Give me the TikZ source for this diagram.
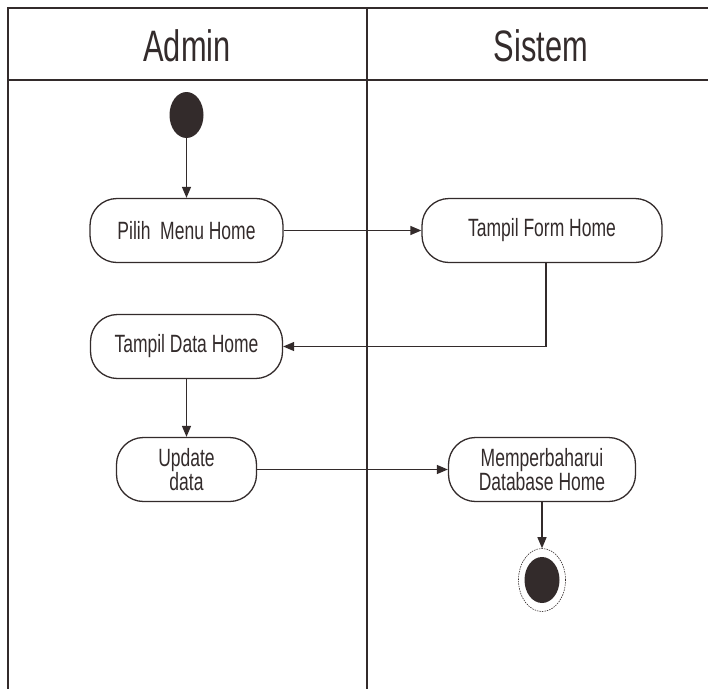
\documentclass[tikz,border=0pt]{standalone}
\usepackage{fontspec}
\setmainfont{Liberation Sans}
\newfontfamily\narrowfont[FakeStretch=0.7]{Liberation Sans}
\usetikzlibrary{arrows.meta,shapes.geometric}
\definecolor{inkdark}{HTML}{332B2B}
\tikzset{
  lane/.style={draw=inkdark, line width=2pt},
  lanetitle/.style={anchor=base, text=inkdark, inner sep=0pt,
    font=\narrowfont\fontsize{44}{44}\selectfont},
  activity/.style={draw=inkdark, line width=1.3pt, rounded corners=27pt,
    minimum height=64pt, inner sep=0pt, align=center, text=inkdark,
    font=\narrowfont\fontsize{25}{24}\selectfont},
  flow/.style={draw=inkdark, line width=1.3pt,
    -{Triangle[length=11pt,width=9pt]}},
  initial/.style={ellipse, fill=inkdark, inner sep=0pt,
    minimum width=34pt, minimum height=46pt},
}
\begin{document}
\begin{tikzpicture}[x=1pt, y=-1pt]
    \useasboundingbox (0,0) rectangle (708,689);

    % Swimlanes
    \draw[lane] (708,8) -- (8,8) -- (8,689);
    \draw[lane] (8,80) -- (708,80);
    \draw[lane] (366.5,8) -- (366.5,689);
    \node[lanetitle] (admin) at (187,61) {Admin};
    \node[lanetitle] (sistem) at (541,61) {Sistem};

    % Start / end
    \node[initial] (start) at (186.5,115) {};
    \node[ellipse, draw=inkdark, line width=0.6pt, dash pattern=on 1.5pt off 1pt,
          minimum width=47pt, minimum height=63pt, inner sep=0pt] (endring) at (542,580) {};
    \node[initial, minimum width=35pt] (enddot) at (542,580) {};

    % Activities
    \node[activity, minimum width=193pt] (pilih) at (186.5,230.5) {Pilih\ \ Menu Home};
    \node[activity, minimum width=240pt] (form) at (542,230.5) {Tampil Form Home};
    \node[activity, minimum width=192pt] (data) at (186.5,346.5) {Tampil Data Home};
    \node[activity, minimum width=140pt] (update) at (186.5,469.5) {Update\\data};
    \node[activity, minimum width=187pt] (perbarui) at (542,469.5) {Memperbaharui\\Database Home};

    % Flows
    \draw[flow] (start) -- (pilih);
    \draw[flow] (pilih) -- (form);
    \draw[flow] ([xshift=4pt]form.south) |- (data.east);
    \draw[flow] (data) -- (update);
    \draw[flow] (update) -- (perbarui);
    \draw[flow] (perbarui) -- (endring);
\end{tikzpicture}
\end{document}
